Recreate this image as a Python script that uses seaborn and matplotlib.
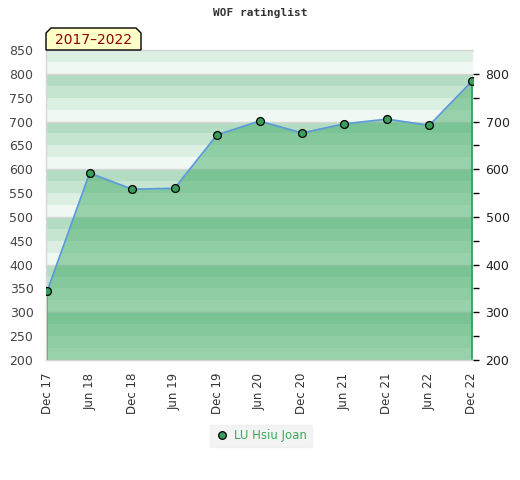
import matplotlib
matplotlib.use("Agg")
import matplotlib.pyplot as plt
import seaborn as sns
import numpy as np
import pandas as pd
from matplotlib.patches import Polygon
from matplotlib.lines import Line2D

# ---- data ----
periods = ["Dec 17", "Jun 18", "Dec 18", "Jun 19", "Dec 19", "Jun 20",
           "Dec 20", "Jun 21", "Dec 21", "Jun 22", "Dec 22"]
ratings = [345, 592, 558, 560, 672, 701, 676, 695, 705, 692, 784]
player = "LU Hsiu Joan"
title = "WOF ratinglist"
range_label = "2017\u20132022"
left_ticks = [200, 250, 300, 350, 400, 450, 500, 550, 600, 650, 700, 750, 800, 850]
right_ticks = [200, 300, 400, 500, 600, 700, 800]

df = pd.DataFrame({"idx": np.arange(len(periods)), "rating": ratings})

sns.set_theme(style="white")
plt.rcParams['font.family'] = ['DejaVu Sans']

W, H = 520, 480
fig = plt.figure(figsize=(W / 100, H / 100), dpi=100)
L, R, T, B = 46, 473, 50, 360
ax = fig.add_axes([L / W, 1 - B / H, (R - L) / W, (B - T) / H])

ymin, ymax = 200, 850
ax.set_ylim(ymin, ymax)
ax.set_xlim(-0.03, len(periods) - 1 + 0.03)

# background bands
band_cols = ["#f0f8f3", "#dcefe3", "#c6e5d1", "#b3dcc2"]
for v in range(ymin, ymax, 25):
    ax.axhspan(v, v + 25, color=band_cols[((v % 100) // 25)], lw=0, zorder=0)
for v in range(ymin, ymax + 1, 100):
    ax.axhline(v, color="#d6d6d6", lw=1, zorder=0.5)

# area fill
ax.fill_between(df["idx"], ymin, df["rating"], color="#43ac68", alpha=0.5, lw=0, zorder=1)
ax.vlines([df["idx"].iloc[0], df["idx"].iloc[-1]], ymin,
          [df["rating"].iloc[0], df["rating"].iloc[-1]], color="#2e9e50", lw=1.2, zorder=2)

sns.lineplot(data=df, x="idx", y="rating", ax=ax, color="#5b9bd8", lw=1.3, zorder=3)
sns.scatterplot(data=df, x="idx", y="rating", ax=ax, color="#3a9e5c", edgecolor="black",
                linewidth=0.9, s=32, zorder=4)

ax.set_xlabel("")
ax.set_ylabel("")
ax.set_xticks(df["idx"])
ax.set_xticklabels(periods, rotation=90, fontsize=8.5, color="#333333")
ax.set_yticks(left_ticks)
ax.set_yticklabels([str(t) for t in left_ticks], fontsize=9, color="#444444")
ax.tick_params(axis="both", length=0)
ax.tick_params(axis="x", pad=9)
ax.tick_params(axis="y", pad=9)
for s in ["left", "bottom", "top"]:
    ax.spines[s].set_color("#d6d6d6")
    ax.spines[s].set_linewidth(1)
ax.spines["right"].set_visible(False)

ax2 = ax.twinx()
ax2.set_ylim(ymin, ymax)
ax2.set_yticks(right_ticks)
ax2.set_yticklabels([str(t) for t in right_ticks], fontsize=9, color="#222222")
ax2.set_yticks(list(range(250, 800, 100)), minor=True)
ax2.tick_params(axis="y", which="both", direction="out", length=4, width=1, color="black", pad=5)
for s in ax2.spines.values():
    s.set_visible(False)
ax2.grid(False)
ax.grid(False)

# title
fig.text(0.5, 1 - 13 / H, title, ha="center", va="center", fontsize=8,
         fontweight="bold", family="DejaVu Sans Mono", color="#333333")

# range tab
pts = [(46, 50), (46, 33), (51, 28), (136, 28), (141, 33), (141, 50)]
poly = Polygon([(x / W, 1 - y / H) for x, y in pts], closed=True, facecolor="#ffffc8",
               edgecolor="black", lw=1, transform=fig.transFigure, zorder=10)
fig.patches.append(poly)
fig.text(93.5 / W, 1 - 40 / H, range_label, ha="center", va="center", fontsize=10,
         color="#8b0000", zorder=11)

# legend
handle = Line2D([], [], ls="none", marker="o", markersize=5.5, markerfacecolor="#3a9e5c",
                markeredgecolor="black", markeredgewidth=0.9)
leg = fig.legend([handle], [player], loc="center", bbox_to_anchor=(261 / W, 1 - 436 / H),
                 frameon=True, fancybox=False, fontsize=8.5, handletextpad=0.4,
                 borderpad=0.4, handlelength=1.2)
leg.get_frame().set_facecolor("#f0f0f0")
leg.get_frame().set_edgecolor("#f0f0f0")
for t in leg.get_texts():
    t.set_color("#3aaa5a")

fig.savefig("out.png", dpi=100)
